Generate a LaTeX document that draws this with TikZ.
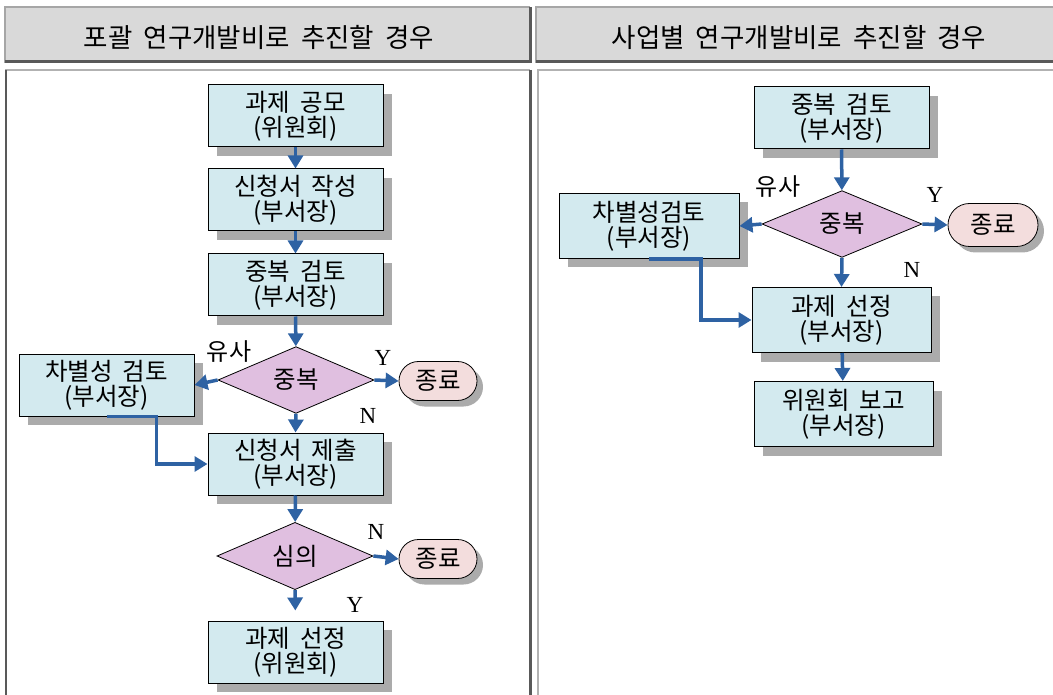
\documentclass[tikz,border=0pt]{standalone}
\usepackage{fontspec}
\setmainfont{Noto Sans CJK KR}
\newfontfamily\lat{Liberation Serif}
\usetikzlibrary{shapes.geometric,shapes.misc,shadows,arrows.meta}
\definecolor{boxfill}{HTML}{D3EAEF}
\definecolor{diafill}{HTML}{E0BFE0}
\definecolor{endfill}{HTML}{F3DDDD}
\definecolor{hdrfill}{HTML}{D9D9D9}
\definecolor{arrblue}{HTML}{2E62A3}
\definecolor{shad}{HTML}{ABABAB}
\newcommand\kfont[2]{\fontsize{#1}{#2}\selectfont\spaceskip=0.42em plus 0.1em\relax}
\tikzset{
  shd/.style={general shadow={fill=shad, shadow xshift=9pt, shadow yshift=-9pt}},
  procbox/.style={draw=black, line width=1pt, fill=boxfill, shd, rectangle,
    minimum width=175pt, minimum height=62pt, align=center, inner sep=0pt,
    font=\kfont{24.5}{25}},
  decision/.style={draw=black, line width=0.8pt, fill=diafill, diamond, inner sep=0pt,
    minimum width=156pt, minimum height=60pt, font=\kfont{24.5}{25}},
  endbox/.style={draw=black, line width=0.8pt, fill=endfill, rounded rectangle,
    minimum width=78pt, minimum height=39pt, inner sep=0pt, general shadow={fill=shad, shadow xshift=6pt, shadow yshift=-6pt},
    font=\kfont{24.5}{25}},
  arr/.style={draw=arrblue, line width=3.5pt, -{Triangle[length=13pt,width=15pt]}},
  lbl/.style={font=\kfont{24}{24}, inner sep=0pt},
  yn/.style={font=\lat\fontsize{23}{24}\selectfont, inner sep=0pt},
  hdr/.style={font=\kfont{26.5}{30}, inner sep=0pt},
}
\begin{document}
\begin{tikzpicture}[x=1pt,y=-1pt]
\useasboundingbox (0,0) rectangle (1053,695);
% headers
\fill[hdrfill] (5,7) rectangle (530,63);
\draw[gray!70, line width=1.2pt] (5,63) -- (5,7) -- (530,7);
\draw[black!65, line width=3pt] (5,62) -- (530,62) -- (530,7);
\fill[hdrfill] (536,7) rectangle (1060,63);
\draw[gray!70, line width=1.2pt] (536,63) -- (536,7) -- (1060,7);
\draw[black!65, line width=3pt] (536,62) -- (1060,62);
\node[hdr] (h1) at (259,37) {포괄 연구개발비로 추진할 경우};
\node[hdr] (h2) at (799,37) {사업별 연구개발비로 추진할 경우};
% panels
\draw[gray!60, line width=1.2pt] (6,700) -- (6,70) -- (530,70);
\draw[black!65, line width=1.5pt] (6,70) -- (6,700);
\draw[black!65, line width=3pt] (530,70) -- (530,700);
\draw[gray!60, line width=1.5pt] (538,700) -- (538,70) -- (1060,70);

% left panel
\node[procbox] (b1) at (295.5,116) {과제 공모\\(위원회)};
\node[procbox] (b2) at (295.5,200) {신청서 작성\\(부서장)};
\node[procbox] (b3) at (295.5,285) {중복 검토\\(부서장)};
\node[decision] (d1) at (296,380) {중복};
\node[procbox] (s1) at (106.5,385) {차별성 검토\\(부서장)};
\node[endbox] (t1) at (438,381) {종료};
\node[procbox] (b4) at (295.5,464) {신청서 제출\\(부서장)};
\node[decision] (d2) at (295,556) {심의};
\node[endbox] (t2) at (438,559) {종료};
\node[procbox] (b5) at (295.5,652) {과제 선정\\(위원회)};

\node[lbl] (l1) at (229,352) {유사};
\node[yn] (l2) at (383,358) {Y};
\node[yn] (l3) at (368,416) {N};
\node[yn] (l4) at (376,532) {N};
\node[yn] (l5) at (355,605) {Y};

\draw[arr] (b1) -- (b2);
\draw[arr] (b2) -- (b3);
\draw[arr] (b3) -- (d1);
\draw[arr] (d1.west) -- (s1.east);
\draw[arr] (d1.east) -- (t1.west);
\draw[arr] (d1.south) -- (b4.north);
\draw[arr] (s1.south) -- ([xshift=50pt]s1.south) |- (b4.west);
\draw[arr] (b4) -- (d2);
\draw[arr] (d2.east) -- (t2.west);
\draw[arr, shorten >=10pt] (d2.south) -- (b5.north);

% right panel
\node[procbox] (r1) at (841.5,118) {중복 검토\\(부서장)};
\node[decision, minimum width=160pt, minimum height=65pt] (rd) at (842,224) {중복};
\node[endbox, minimum width=90pt, minimum height=43pt] (rt) at (993,225) {종료};
\node[procbox, minimum width=180pt, minimum height=65pt] (rs) at (649,226) {차별성검토\\(부서장)};
\node[procbox, minimum width=179pt, minimum height=65pt] (r2) at (841.5,320) {과제 선정\\(부서장)};
\node[procbox, minimum width=179pt, minimum height=65pt] (r3) at (843.5,414) {위원회 보고\\(부서장)};

\node[lbl] (m1) at (778,187) {유사};
\node[yn] (m2) at (935,195) {Y};
\node[yn] (m3) at (912,270) {N};

\draw[arr] (r1) -- (rd);
\draw[arr] (rd.west) -- (rs.east);
\draw[arr] (rd.east) -- (rt.west);
\draw[arr] (rd.south) -- (r2.north);
\draw[arr] (rs.south) -- ([xshift=52pt]rs.south) |- (r2.west);
\draw[arr] (r2) -- (r3);
\end{tikzpicture}
\end{document}
